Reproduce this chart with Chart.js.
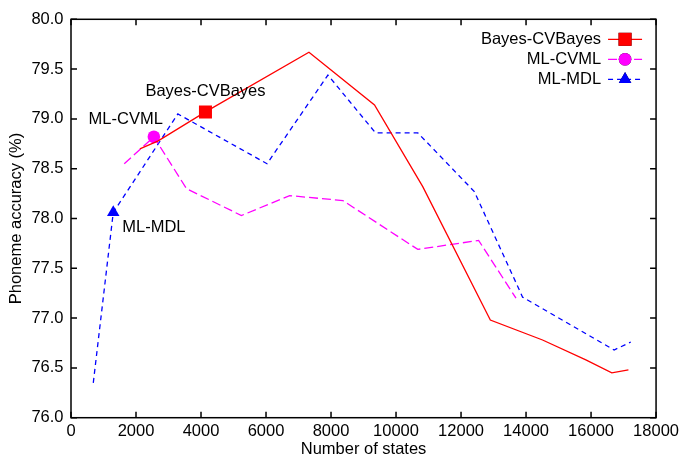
<!DOCTYPE html>
<html>
<head>
<meta charset="utf-8">
<script src="https://cdn.jsdelivr.net/npm/chart.js@4"></script>
<style>
  html, body { margin: 0; padding: 0; background: #fff; }
  #wrap { width: 683px; height: 456px; }
</style>
</head>
<body>
<div id="wrap"><canvas id="accChart"></canvas></div>
<script>
// number of states / phoneme accuracy for each training setup
const bayesStates = [2119, 2683, 4137, 7321, 9338, 10822, 12901, 14508, 15840, 16638, 17150];
const bayesAcc    = [78.70, 78.78, 79.07, 79.67, 79.14, 78.32, 76.98, 76.78, 76.58, 76.45, 76.48];

const cvmlStates = [1638, 2549, 3553, 5243, 6727, 8364, 10669, 12541, 13690];
const cvmlAcc    = [78.55, 78.82, 78.30, 78.03, 78.23, 78.18, 77.69, 77.78, 77.20];

const mdlStates = [686, 1300, 3287, 6031, 7905, 9368, 10669, 12409, 13894, 16710, 17222];
const mdlAcc    = [76.35, 78.06, 79.05, 78.55, 79.44, 78.86, 78.86, 78.27, 77.21, 76.68, 76.76];

const seriesNames = ["Bayes-CVBayes", "ML-CVML", "ML-MDL"];
// point chosen by each selection criterion
const chosenIdx = [2, 1, 1];

const xTicks = [0, 2000, 4000, 6000, 8000, 10000, 12000, 14000, 16000, 18000];
const yTicks = [76.0, 76.5, 77.0, 77.5, 78.0, 78.5, 79.0, 79.5, 80.0];

const FONT = "Liberation Sans, Arial, Helvetica, sans-serif";
const FSIZE = 16.5;

const styles = [
  { color: "#ff0000", dash: [], point: "rect", radius: 9.2 },
  { color: "#ff00ff", dash: [9, 4], point: "circle", radius: 6.3 },
  { color: "#0000ff", dash: [5, 4], point: "triangle", radius: 7.2 }
];

function pts(xs, ys) {
  return xs.map((x, i) => ({ x: x, y: ys[i] }));
}

const seriesData = [pts(bayesStates, bayesAcc), pts(cvmlStates, cvmlAcc), pts(mdlStates, mdlAcc)];

const datasets = seriesData.map((d, k) => ({
  label: seriesNames[k],
  data: d,
  borderColor: styles[k].color,
  backgroundColor: styles[k].color,
  borderWidth: 1.3,
  borderDash: styles[k].dash,
  tension: 0,
  pointStyle: styles[k].point,
  pointRadius: ctx => ctx.dataIndex === chosenIdx[k] ? styles[k].radius : 0,
  pointBorderWidth: 0,
  pointHoverRadius: 0
}));

// gnuplot-like frame with inward ticks on every side, plus key and point labels
const framePlugin = {
  id: "frame",
  afterDatasetsDraw(chart) {
    const c = chart.ctx;
    const a = chart.chartArea;
    const xs = chart.scales.x, ys = chart.scales.y;
    c.save();
    c.strokeStyle = "#000";
    c.lineWidth = 1.5;
    c.setLineDash([]);
    c.strokeRect(a.left, a.top, a.right - a.left, a.bottom - a.top);
    const tl = 6;
    c.beginPath();
    xTicks.forEach(v => {
      const px = xs.getPixelForValue(v);
      c.moveTo(px, a.bottom); c.lineTo(px, a.bottom - tl);
      c.moveTo(px, a.top); c.lineTo(px, a.top + tl);
    });
    yTicks.forEach(v => {
      const py = ys.getPixelForValue(v);
      c.moveTo(a.left, py); c.lineTo(a.left + tl, py);
      c.moveTo(a.right, py); c.lineTo(a.right - tl, py);
    });
    c.stroke();

    c.font = FSIZE + "px " + FONT;
    c.fillStyle = "#000";
    c.textBaseline = "middle";

    // labels next to the chosen points
    const offs = [
      { dx: 0, dy: -20, align: "center" },
      { dx: 9, dy: -17, align: "right" },
      { dx: 9, dy: 15, align: "left" }
    ];
    chart.data.datasets.forEach((ds, k) => {
      const p = ds.data[chosenIdx[k]];
      const px = xs.getPixelForValue(p.x), py = ys.getPixelForValue(p.y);
      c.textAlign = offs[k].align;
      c.fillText(ds.label, px + offs[k].dx, py + offs[k].dy);
    });

    // key, top right
    const keyRight = a.right - 55, lx0 = keyRight + 7, lx1 = keyRight + 41;
    chart.data.datasets.forEach((ds, k) => {
      const y = a.top + 20 + k * 20;
      c.textAlign = "right";
      c.fillStyle = "#000";
      c.fillText(ds.label, keyRight, y);
      c.strokeStyle = ds.borderColor;
      c.lineWidth = 1.3;
      c.setLineDash(ds.borderDash);
      c.beginPath();
      c.moveTo(lx0, y); c.lineTo(lx1, y);
      c.stroke();
      c.setLineDash([]);
      Chart.helpers.drawPoint(c, {
        pointStyle: styles[k].point, radius: styles[k].radius, rotation: 0, borderWidth: 0
      }, (lx0 + lx1) / 2, y);
      c.fillStyle = ds.borderColor;
      c.fill();
    });
    c.restore();
  }
};

new Chart(document.getElementById("accChart"), {
  type: "line",
  data: { datasets },
  options: {
    responsive: true,
    maintainAspectRatio: false,
    animation: false,
    events: [],
    layout: { padding: { top: 19.3, right: 26, left: 0, bottom: 0 } },
    plugins: { legend: { display: false }, tooltip: { enabled: false } },
    scales: {
      x: {
        type: "linear",
        min: 0, max: 18000,
        afterBuildTicks: s => { s.ticks = xTicks.map(v => ({ value: v })); },
        afterFit: s => { s.height = 38.3; },
        grid: { display: false, drawTicks: false },
        border: { display: false },
        ticks: {
          color: "#000", padding: 4, font: { family: FONT, size: FSIZE }, maxRotation: 0,
          callback: v => String(v)
        },
        title: {
          display: true, text: "Number of states", color: "#000",
          font: { family: FONT, size: FSIZE, lineHeight: 1 },
          padding: { top: 0, bottom: -2 }
        }
      },
      y: {
        type: "linear",
        min: 76, max: 80,
        afterBuildTicks: s => { s.ticks = yTicks.map(v => ({ value: v })); },
        afterFit: s => { s.width = 71; },
        grid: { display: false, drawTicks: false },
        border: { display: false },
        ticks: {
          color: "#000", padding: 7.5, font: { family: FONT, size: FSIZE },
          callback: v => Number(v).toFixed(1)
        },
        title: {
          display: true, text: "Phoneme accuracy (%)", color: "#000",
          font: { family: FONT, size: FSIZE, lineHeight: 1 },
          padding: { top: 8, bottom: 0 }
        }
      }
    }
  },
  plugins: [framePlugin]
});
</script>
</body>
</html>
